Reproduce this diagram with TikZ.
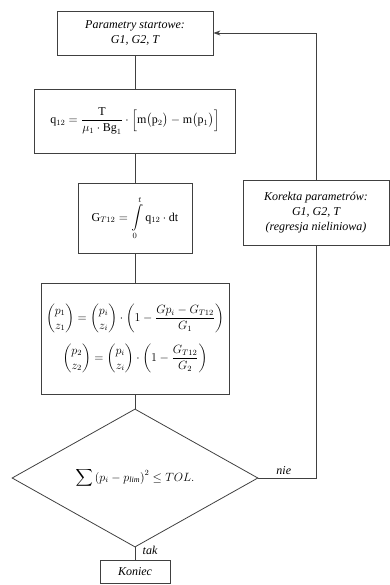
\documentclass[tikz,border=0pt]{standalone}
\usepackage{amsmath,amssymb}
\usepackage{fontspec}
\setmainfont{Liberation Serif}
\usetikzlibrary{positioning, arrows.meta, shapes.geometric}

\begin{document}
\begin{tikzpicture}[
    x=1pt, y=1pt,
    font=\fontsize{12}{15}\selectfont,
    box/.style={rectangle, draw=black!75, line width=0.8pt, align=center, inner sep=2pt},
    italbox/.style={box, font=\fontsize{12}{15}\selectfont\itshape},
    decision/.style={diamond, draw=black!75, line width=0.8pt, minimum width=246pt, minimum height=100pt, inner sep=0pt},
    line/.style={draw=black!75, line width=0.8pt},
    arrow/.style={line, -{Stealth[length=7pt,width=5pt]}}
]
\useasboundingbox (0,0) rectangle (390,-585);

% Nodes
\node[italbox, minimum width=156pt, minimum height=44pt] (start) at (135,-33) {Parametry startowe:\\ G1, G2, T};
\node[box, minimum width=201pt, minimum height=64pt] (flow) at (135,-121)
    {$\mathrm{q}_{12}=\dfrac{\mathrm{T}}{\mu_1\cdot\mathrm{Bg}_1}\cdot\Bigl[\mathrm{m}\bigl(\mathrm{p}_2\bigr)-\mathrm{m}\bigl(\mathrm{p}_1\bigr)\Bigr]$};
\node[box, minimum width=114pt, minimum height=70pt] (accum) at (135,-218)
    {$\mathrm{G}_{T12}=\displaystyle\int\limits_0^t\mathrm{q}_{12}\cdot\mathrm{dt}$};
\node[box, minimum width=188pt, minimum height=111pt] (split) at (135,-338.5)
    {$\begin{pmatrix}p_1\\ z_1\end{pmatrix}=\begin{pmatrix}p_i\\ z_i\end{pmatrix}\cdot\left(1-\dfrac{Gp_i-G_{T12}}{G_1}\right)$\\[9pt]
     $\begin{pmatrix}p_2\\ z_2\end{pmatrix}=\begin{pmatrix}p_i\\ z_i\end{pmatrix}\cdot\left(1-\dfrac{G_{T12}}{G_2}\right)$};
\node[decision] (check) at (135,-478)
    {$\displaystyle\sum\left(p_i-p_{\mathit{lim}}\right)^2\le TOL.$};
\node[italbox, minimum width=70pt, minimum height=23pt] (end) at (135,-571.5) {Koniec};
\node[italbox, minimum width=146pt, minimum height=65pt] (fix) at (316,-212.5)
    {Korekta parametrów:\\ G1, G2, T\\ (regresja nieliniowa)};

% Connectors
\draw[line] (start) -- (flow);
\draw[line] (flow) -- (accum);
\draw[line] (accum) -- (split);
\draw[line] (split) -- (check);
\draw[line] (check) -- node[right, xshift=4pt, yshift=3pt, font=\fontsize{12}{15}\selectfont\itshape] {tak} (end);
\draw[line] (check.east) -| (fix.south) node[pos=0.22, above, font=\fontsize{12}{15}\selectfont\itshape] {nie};
\draw[arrow] (fix.north) |- (start.east);

\end{tikzpicture}
\end{document}
